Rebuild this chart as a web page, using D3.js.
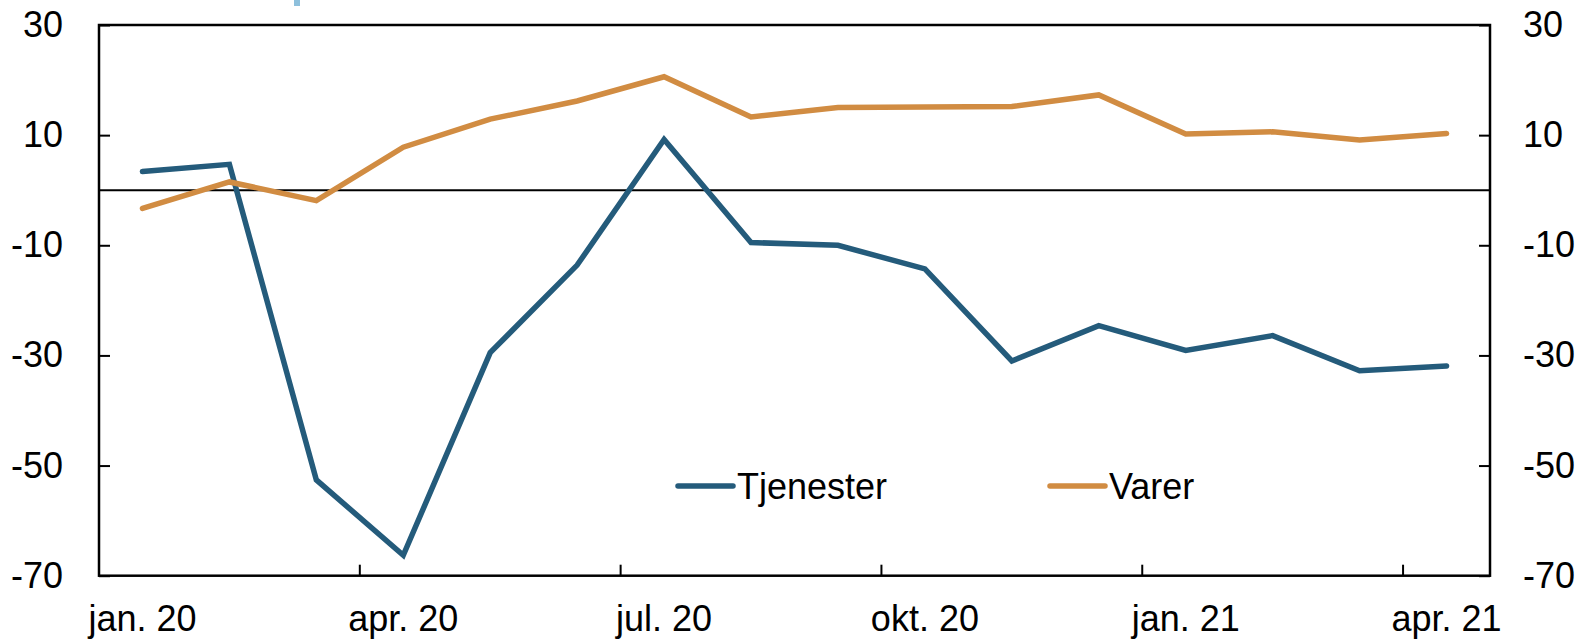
<!DOCTYPE html>
<html>
<head>
<meta charset="utf-8">
<script src="https://cdn.jsdelivr.net/npm/d3@7"></script>
<style>
  html, body { margin:0; padding:0; background:#fff; }
  svg { display:block; font-family: Arial, "Liberation Sans", sans-serif; }
</style>
</head>
<body>
<svg id="chart" width="1580" height="639"></svg>
<script>
// data
const months = ["jan. 20","feb. 20","mar. 20","apr. 20","mai. 20","jun. 20","jul. 20","aug. 20",
  "sep. 20","okt. 20","nov. 20","des. 20","jan. 21","feb. 21","mar. 21","apr. 21"];
const tjenester = [3.4, 4.7, -52.6, -66.3, -29.5, -13.6, 9.2, -9.5, -10.0, -14.3, -31.0, -24.6, -29.1, -26.4, -32.8, -31.9];
const varer = [-3.3, 1.5, -1.9, 7.8, 12.9, 16.2, 20.6, 13.3, 15.0, 15.1, 15.2, 17.3, 10.2, 10.6, 9.1, 10.3];
const yTicks = [30, 10, -10, -30, -50, -70];
const xLabelIdx = [0, 3, 6, 9, 12, 15];
const seriesNames = ["Tjenester", "Varer"];
const seriesColors = ["#245b7b", "#d18c42"];

const svg = d3.select("#chart");
const m = { left: 99, right: 1490, top: 25, bottom: 575.7 };

const x = d3.scaleBand().domain(d3.range(months.length)).range([m.left, m.right]).padding(0);
const y = d3.scaleLinear().domain([-70, 30]).range([m.bottom, m.top]);

// light blue fragment at top (cut-off element in source)
svg.append("rect").attr("x", 294).attr("y", 0).attr("width", 6).attr("height", 6).attr("fill", "#8ec0dc");

// zero line
svg.append("line").attr("x1", m.left).attr("x2", m.right).attr("y1", y(0)).attr("y2", y(0))
  .attr("stroke", "#000").attr("stroke-width", 2);

// y axes, plain hyphen for negatives like the source
const tickFont = 36;
const fmt = d => String(d);
const axL = d3.axisLeft(y).tickValues(yTicks).tickSize(-11).tickPadding(36).tickFormat(fmt);
const axR = d3.axisRight(y).tickValues(yTicks).tickSize(-11).tickPadding(33).tickFormat(fmt);
[[axL, m.left], [axR, m.right]].forEach(([ax, tx]) => {
  const gA = svg.append("g").attr("transform", `translate(${tx},0)`).call(ax);
  gA.select(".domain").remove();
  gA.selectAll(".tick line").attr("stroke", "#000").attr("stroke-width", 2);
  gA.selectAll(".tick text").attr("font-size", tickFont).attr("fill", "#000")
    .attr("font-family", "Arial, 'Liberation Sans', sans-serif");
});

// x axis ticks at band starts every quarter
const xTickPos = xLabelIdx.slice(1).map(i => x(i));
svg.append("g").selectAll("line").data(xTickPos).enter().append("line")
  .attr("x1", d => d).attr("x2", d => d).attr("y1", m.bottom).attr("y2", m.bottom - 11)
  .attr("stroke", "#000").attr("stroke-width", 2);
svg.append("g").selectAll("text").data(xLabelIdx).enter().append("text")
  .attr("x", i => x(i) + x.bandwidth() / 2).attr("y", 631)
  .attr("text-anchor", "middle").attr("font-size", tickFont).attr("fill", "#000")
  .text(i => months[i]);

// frame
svg.append("rect").attr("x", m.left).attr("y", m.top).attr("width", m.right - m.left).attr("height", m.bottom - m.top)
  .attr("fill", "none").attr("stroke", "#000").attr("stroke-width", 2.5);

// lines
const line = d3.line().x((d, i) => x(i) + x.bandwidth() / 2).y(d => y(d));
[tjenester, varer].forEach((s, k) => {
  svg.append("path").datum(s).attr("d", line).attr("fill", "none")
    .attr("stroke", seriesColors[k]).attr("stroke-width", 5.5)
    .attr("stroke-linejoin", "miter").attr("stroke-linecap", "round");
});

// legend
const legX = [678, 1050];
const leg = svg.append("g").selectAll("g").data(seriesNames).enter().append("g")
  .attr("transform", (d, i) => `translate(${legX[i]},486)`);
leg.append("line").attr("x1", 0).attr("x2", 55).attr("y1", 0).attr("y2", 0)
  .attr("stroke", (d, i) => seriesColors[i]).attr("stroke-width", 5.5).attr("stroke-linecap", "round");
leg.append("text").attr("x", 59).attr("y", 13).attr("font-size", 36).attr("fill", "#000").text(d => d);
</script>
</body>
</html>
